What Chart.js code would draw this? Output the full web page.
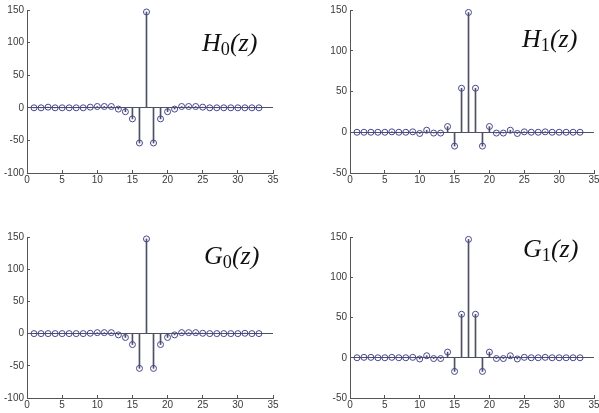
<!DOCTYPE html>
<html>
<head>
<meta charset="utf-8">
<script src="https://cdn.jsdelivr.net/npm/chart.js@4/dist/chart.umd.min.js"></script>
<style>
  html, body { margin: 0; padding: 0; background: #fff; width: 599px; height: 413px; overflow: hidden; }
  canvas { position: absolute; left: 0; top: 0; }
  .lbl { position: absolute; font-family: 'Liberation Serif', 'DejaVu Serif', serif; font-style: italic;
         font-size: 26px; line-height: 26px; color: #111; white-space: nowrap; }
  .lbl sub { font-size: 0.7em; vertical-align: -0.2em; font-style: normal; }
</style>
</head>
<body>
<canvas id="c-h0" width="599" height="413"></canvas>
<canvas id="c-h1" width="599" height="413"></canvas>
<canvas id="c-g0" width="599" height="413"></canvas>
<canvas id="c-g1" width="599" height="413"></canvas>
<div class="lbl" style="left:202px;top:30px">H<sub>0</sub>(z)</div>
<div class="lbl" style="left:522px;top:26px">H<sub>1</sub>(z)</div>
<div class="lbl" style="left:204px;top:243px">G<sub>0</sub>(z)</div>
<div class="lbl" style="left:523px;top:236px">G<sub>1</sub>(z)</div>
<script>
// sample index n = 1..33
const N = [1, 2, 3, 4, 5, 6, 7, 8, 9, 10, 11, 12, 13, 14, 15, 16, 17,
           18, 19, 20, 21, 22, 23, 24, 25, 26, 27, 28, 29, 30, 31, 32, 33];

// filter coefficients
const h0 = [0, 0, 1, 0, 0, 0, 0, 0, 1, 2, 2, 2, -2, -6, -17, -54, 147,
            -54, -17, -6, -2, 2, 2, 2, 1, 0, 0, 0, 0, 0, 0, 0, 0];
const h1 = [0, 0, 0, 0, 0, 0.5, 0, 0, 0.5, -1.5, 2.5, -1, -1, 7, -17, 54, 147,
            54, -17, 7, -1, -1, 2.5, -1.5, 0.5, 0, 0, 0.5, 0, 0, 0, 0, 0];
const g0 = [0, 0, 0, 0, 0, 0, 0, 0, 0.5, 1.5, 1.5, 1.5, -2, -6, -17, -54, 147,
            -54, -17, -6, -2, 1.5, 1.5, 1.5, 0.5, 0, 0, 0, 0, 0, 0.5, 0, 0];
const g1 = [0, 0.5, 0.5, 0, 0, 0.5, 0, 0, 0.5, -1.5, 2.5, -1, -1, 7, -17, 54, 147,
            54, -17, 7, -1, -1, 2.5, -1.5, 0.5, 0, 0, 0.5, 0, 0, 0, 0, 0];

const X_TICKS = { min: 0, max: 35, step: 5 };
const Y_TICKS_0 = { min: -100, max: 150, step: 50 };
const Y_TICKS_1 = { min: -50, max: 150, step: 50 };

const STEM = '#4e5064';
const MARK = '#45458f';
const AXIS = '#555';
const TXT = '#3a3a3a';
const W = 599, H = 413;
const Y_AXIS_W = 27, X_AXIS_H = 15;

function stemChart(id, vals, yt, area) {
  new Chart(document.getElementById(id), {
    data: {
      datasets: [
        {
          type: 'bar',
          data: N.map((n, i) => ({ x: n, y: vals[i] })),
          backgroundColor: STEM,
          borderWidth: 0,
          barThickness: 1,
          clip: false,
          order: 2,
        },
        {
          type: 'line',
          data: N.map((n, i) => ({ x: n, y: vals[i] })),
          showLine: false,
          pointRadius: 3,
          pointBorderWidth: 1,
          pointBorderColor: MARK,
          pointBackgroundColor: 'rgba(0,0,0,0)',
          clip: false,
          order: 1,
        },
      ],
    },
    options: {
      responsive: false,
      animation: false,
      events: [],
      layout: {
        padding: {
          left: area.left - Y_AXIS_W,
          top: area.top,
          right: W - area.right,
          bottom: H - area.bottom - X_AXIS_H,
        },
      },
      plugins: { legend: { display: false }, tooltip: { enabled: false } },
      scales: {
        x: {
          type: 'linear',
          offset: false,
          min: X_TICKS.min,
          max: X_TICKS.max,
          border: { color: AXIS, width: 1 },
          grid: { offset: false, drawOnChartArea: false, tickLength: -3, tickColor: AXIS },
          ticks: { stepSize: X_TICKS.step, color: TXT, padding: 4, maxRotation: 0,
                   font: { family: "'Liberation Sans', Arial, sans-serif", size: 10 } },
          afterFit: (s) => { s.height = X_AXIS_H; s.paddingLeft = 0; s.paddingRight = 0; },
        },
        y: {
          min: yt.min,
          max: yt.max,
          border: { color: AXIS, width: 1 },
          grid: {
            color: (c) => (c.tick && c.tick.value === 0 ? STEM : 'rgba(0,0,0,0)'),
            tickLength: -3,
            tickColor: AXIS,
          },
          ticks: { stepSize: yt.step, color: TXT, padding: 6,
                   font: { family: "'Liberation Sans', Arial, sans-serif", size: 10 } },
          afterFit: (s) => { s.width = Y_AXIS_W; s.paddingTop = 0; s.paddingBottom = 0; },
        },
      },
    },
  });
}

stemChart('c-h0', h0, Y_TICKS_0, { left: 27, top: 10, right: 273, bottom: 173 });
stemChart('c-h1', h1, Y_TICKS_1, { left: 350, top: 10, right: 596, bottom: 173 });
stemChart('c-g0', g0, Y_TICKS_0, { left: 27, top: 237, right: 273, bottom: 398 });
stemChart('c-g1', g1, Y_TICKS_1, { left: 350, top: 237, right: 596, bottom: 398 });
</script>
</body>
</html>
